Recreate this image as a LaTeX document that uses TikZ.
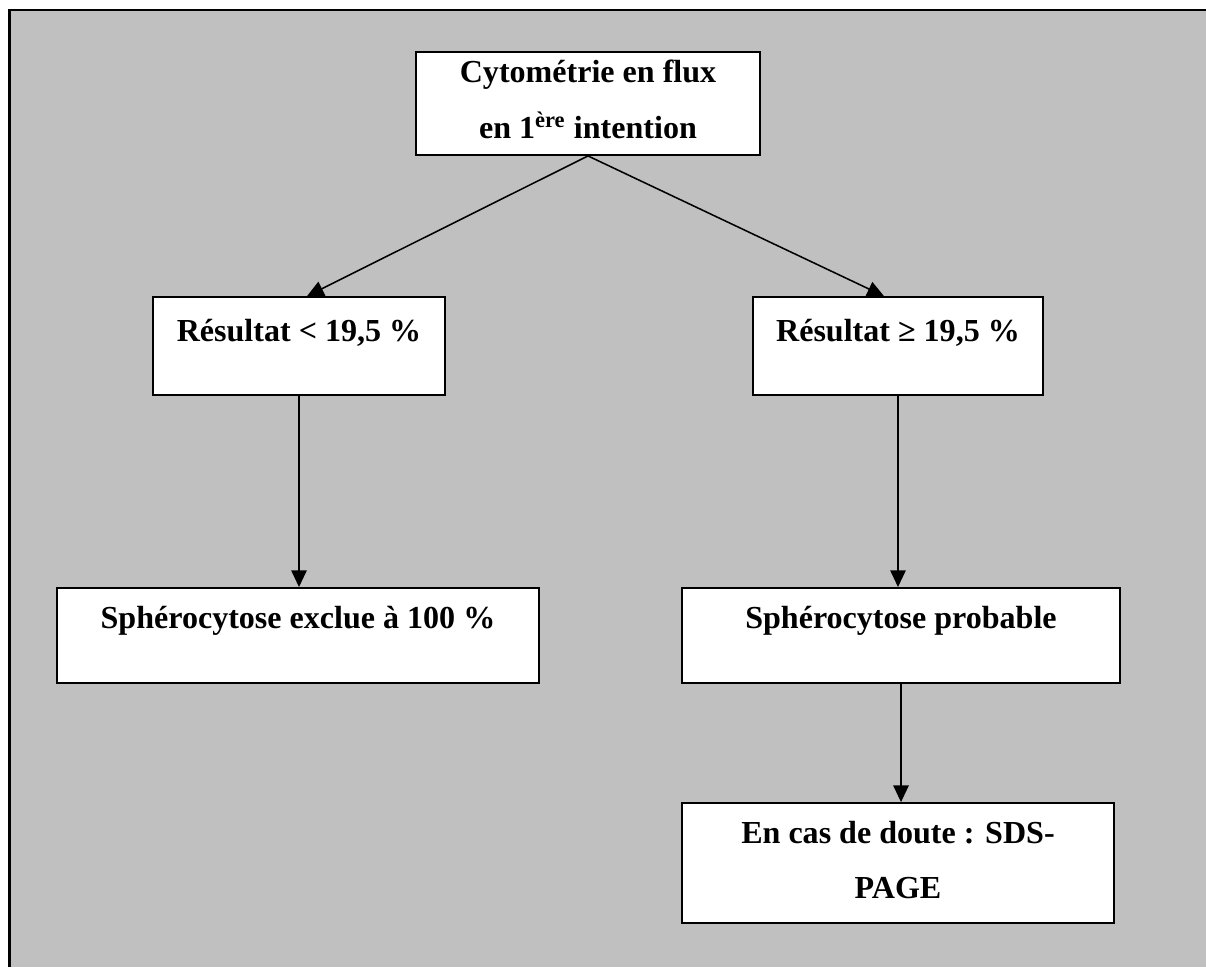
\documentclass[tikz,border=0pt]{standalone}
\usepackage{fontspec}
\setmainfont{Liberation Serif}
\usepackage{tikz}
\usetikzlibrary{arrows.meta,positioning,calc}
\definecolor{panelgray}{HTML}{C0C0C0}
\definecolor{ink}{HTML}{000000}
\tikzset{
  stepbox/.style={draw=ink,fill=white,line width=0.7pt,align=center,
                  font={\fontsize{12.5}{21.6}\selectfont\bfseries},
                  inner xsep=4pt,inner ysep=0pt,text height=9pt},
  flowarr/.style={-{Triangle[length=6.5pt,width=6pt]},line width=0.6pt,draw=ink}
}

\begin{document}
\begin{tikzpicture}[x=0.39pt,y=-0.39pt]
  \useasboundingbox (0,0) rectangle (1206,967);
  % panel
  \fill[panelgray] (8,9) rectangle (1206,967);
  \draw[ink,line width=1.1pt] (9.5,967) -- (9.5,10) -- (1206,10);
  % boxes
  \node[stepbox,minimum width=134.2pt,minimum height=40.2pt,text height=33.7pt,text depth=6.5pt] (cyto) at (588,103.5) {Cytométrie en flux\\en 1\textsuperscript{ère} intention};
  \node[stepbox,minimum width=113.9pt,minimum height=38.2pt,text depth=12.5pt] (inf) at (299,346) {Résultat < 19,5 \%};
  \node[stepbox,minimum width=113.1pt,minimum height=38.2pt,text depth=12.5pt] (sup) at (898,346) {Résultat ≥ 19,5 \%};
  \node[stepbox,minimum width=188pt,minimum height=37.1pt,text depth=14.6pt] (excl) at (298,635.5) {Sphérocytose exclue à 100 \%};
  \node[stepbox,minimum width=170.8pt,minimum height=37.1pt,text depth=14.6pt] (prob) at (901,635.5) {Sphérocytose probable};
  \node[stepbox,minimum width=168.5pt,minimum height=46.8pt,text height=37pt,text depth=9pt] (doute) at (898,863) {En cas de doute : SDS-\\PAGE};
  % arrows
  \draw[flowarr] (cyto.south) -- ($(inf.north)+(8,0)$);
  \draw[flowarr] (cyto.south) -- ($(sup.north)+(-14,0)$);
  \draw[flowarr] (inf.south) -- (inf.south |- excl.north);
  \draw[flowarr] (sup.south) -- (sup.south |- prob.north);
  \draw[flowarr] (prob.south) -- (prob.south |- doute.north);
\end{tikzpicture}
\end{document}
